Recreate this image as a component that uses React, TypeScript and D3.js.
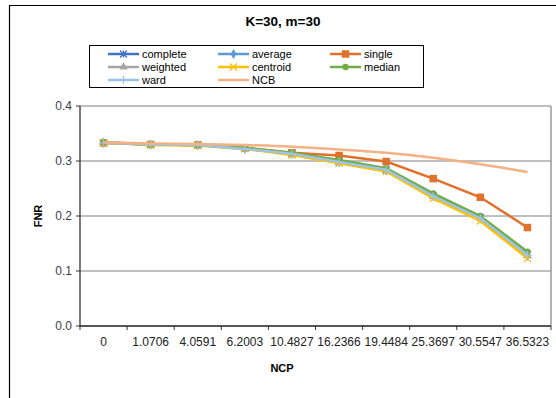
import React from "react";
import * as d3 from "d3";

const categories = ["0", "1.0706", "4.0591", "6.2003", "10.4827", "16.2366", "19.4484", "25.3697", "30.5547", "36.5323"];
const complete = [0.333, 0.330, 0.329, 0.323, 0.313, 0.299, 0.284, 0.237, 0.197, 0.130];
const average = [0.333, 0.330, 0.329, 0.322, 0.313, 0.298, 0.283, 0.236, 0.196, 0.128];
const single = [0.333, 0.330, 0.329, 0.324, 0.315, 0.310, 0.299, 0.268, 0.234, 0.179];
const weighted = [0.334, 0.330, 0.329, 0.323, 0.314, 0.300, 0.285, 0.238, 0.198, 0.131];
const centroid = [0.333, 0.329, 0.328, 0.322, 0.311, 0.296, 0.281, 0.232, 0.191, 0.123];
const median = [0.334, 0.330, 0.329, 0.324, 0.315, 0.302, 0.287, 0.241, 0.200, 0.135];
const ward = [0.333, 0.330, 0.329, 0.322, 0.313, 0.298, 0.284, 0.236, 0.196, 0.129];
const ncb = [0.334, 0.332, 0.331, 0.329, 0.326, 0.321, 0.315, 0.306, 0.294, 0.280];
const yTicks = [0.0, 0.1, 0.2, 0.3, 0.4];

type Series = { name: string; values: number[]; color: string; marker: string };
const series: Series[] = [
  { name: "complete", values: complete, color: "#4472C4", marker: "asterisk" },
  { name: "average", values: average, color: "#5B9BD5", marker: "diamond" },
  { name: "single", values: single, color: "#E0702A", marker: "square" },
  { name: "weighted", values: weighted, color: "#A5A5A5", marker: "triangle" },
  { name: "centroid", values: centroid, color: "#FFC000", marker: "x" },
  { name: "median", values: median, color: "#70AD47", marker: "circle" },
  { name: "ward", values: ward, color: "#9DC3E6", marker: "plus" },
  { name: "NCB", values: ncb, color: "#F4B183", marker: "none" },
];

const FONT = "'Liberation Sans', Arial, sans-serif";

function Marker({ type, x, y, color }: { type: string; x: number; y: number; color: string }) {
  const r = 3.5;
  if (type === "none") return null;
  if (type === "asterisk") {
    return (
      <path
        d={`M${x - r},${y - r}L${x + r},${y + r}M${x - r},${y + r}L${x + r},${y - r}M${x},${y - r}L${x},${y + r}`}
        stroke={color}
        strokeWidth={1.3}
        fill="none"
      />
    );
  }
  if (type === "x") {
    return (
      <path d={`M${x - r},${y - r}L${x + r},${y + r}M${x - r},${y + r}L${x + r},${y - r}`} stroke={color} strokeWidth={1.3} fill="none" />
    );
  }
  if (type === "plus") {
    return <path d={`M${x - r - 0.5},${y}L${x + r + 0.5},${y}M${x},${y - r - 0.5}L${x},${y + r + 0.5}`} stroke={color} strokeWidth={1.3} fill="none" />;
  }
  const symType =
    type === "diamond" ? d3.symbolDiamond : type === "square" ? d3.symbolSquare : type === "triangle" ? d3.symbolTriangle : d3.symbolCircle;
  const size = type === "square" ? 56 : type === "diamond" ? 30 : type === "triangle" ? 30 : 32;
  const p = d3.symbol().type(symType).size(size)() as string;
  return <path d={p} transform={`translate(${x},${y})`} fill={color} stroke="none" />;
}

export default function App() {
  const W = 556,
    H = 398;
  const left = 80,
    right = 551,
    top = 106,
    bottom = 326;
  const x = d3.scaleBand<string>().domain(categories).range([left, right]);
  const y = d3.scaleLinear().domain([0, 0.4]).range([bottom, top]);
  const line = d3
    .line<number>()
    .x((_, i) => (x(categories[i]) as number) + x.bandwidth() / 2)
    .y((d) => y(d));
  const ncbLine = d3
    .line<number>()
    .x((_, i) => (x(categories[i]) as number) + x.bandwidth() / 2)
    .y((d) => y(d))
    .curve(d3.curveMonotoneX);

  const legendCols = [108, 218, 330];
  const legendRows = [54, 67, 80];

  return (
    <svg width={W} height={H} style={{ position: "absolute", left: 0, top: 0 }} fontFamily={FONT}>
      <rect x={0} y={0} width={W} height={H} fill="#fff" />
      {/* outer frame */}
      <path d={`M9.5,${H}L9.5,5.5L${W + 2},5.5`} stroke="#000" strokeWidth={1.2} fill="none" />
      <text x={283} y={26} textAnchor="middle" fontSize={13.5} fontWeight="bold" fill="#000">
        K=30, m=30
      </text>

      {/* legend */}
      <rect x={89.5} y={45.5} width={334} height={42} fill="#fff" stroke="#000" strokeWidth={1} />
      {series.map((s, i) => {
        const cx = legendCols[i % 3];
        const cy = legendRows[Math.floor(i / 3)];
        return (
          <g key={s.name}>
            <line x1={cx} x2={cx + 31} y1={cy} y2={cy} stroke={s.color} strokeWidth={2.5} />
            <Marker type={s.marker} x={cx + 15.5} y={cy} color={s.color} />
            <text x={cx + 34} y={cy + 4} fontSize={11} fill="#000">
              {s.name}
            </text>
          </g>
        );
      })}

      {/* plot area */}
      {yTicks.map((t) => (
        <line key={t} x1={left} x2={right} y1={y(t)} y2={y(t)} stroke="#808080" strokeWidth={1.2} />
      ))}
      <line x1={right} x2={right} y1={top} y2={bottom} stroke="#808080" strokeWidth={1.2} />
      {/* axes */}
      <line x1={left} x2={left} y1={top} y2={bottom + 0.5} stroke="#333" strokeWidth={1.3} />
      <line x1={left} x2={right} y1={bottom} y2={bottom} stroke="#333" strokeWidth={1.3} />
      {yTicks.map((t) => (
        <g key={"yt" + t}>
          <line x1={left - 4} x2={left} y1={y(t)} y2={y(t)} stroke="#333" strokeWidth={1} />
          <text x={72} y={y(t) + 4} textAnchor="end" fontSize={12} fill="#404040">
            {t.toFixed(1)}
          </text>
        </g>
      ))}
      {categories.map((c, i) => (
        <g key={c}>
          <line x1={(x(c) as number) + x.bandwidth()} x2={(x(c) as number) + x.bandwidth()} y1={bottom} y2={bottom + 4} stroke="#333" strokeWidth={1} />
          {i === 0 && <line x1={left} x2={left} y1={bottom} y2={bottom + 4} stroke="#333" strokeWidth={1} />}
          <text x={(x(c) as number) + x.bandwidth() / 2} y={346} textAnchor="middle" fontSize={12} fill="#222">
            {c}
          </text>
        </g>
      ))}
      <text x={282} y={372} textAnchor="middle" fontSize={11} fontWeight="bold" fill="#000">
        NCP
      </text>
      <text transform={`translate(42,216) rotate(-90)`} textAnchor="middle" fontSize={11} fontWeight="bold" fill="#000">
        FNR
      </text>

      {/* series */}
      {series.map((s) => (
        <g key={s.name}>
          <path d={(s.name === "NCB" ? ncbLine : line)(s.values) as string} fill="none" stroke={s.color} strokeWidth={2.5} />
          {s.values.map((v, i) => (
            <Marker key={i} type={s.marker} x={(x(categories[i]) as number) + x.bandwidth() / 2} y={y(v)} color={s.color} />
          ))}
        </g>
      ))}
    </svg>
  );
}
